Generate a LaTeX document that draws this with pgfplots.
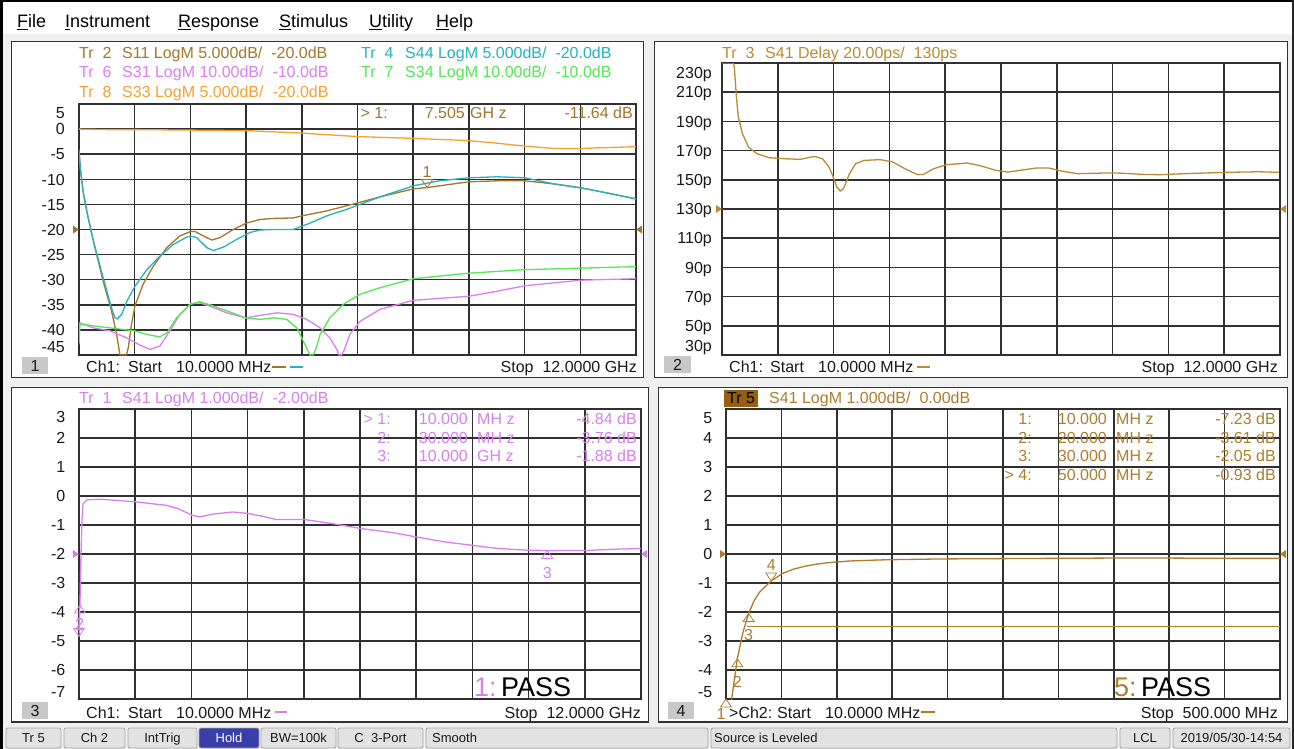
\documentclass[border=0pt]{standalone}
\usepackage{fontspec}
\setmainfont{Liberation Sans}
\usepackage{pgfplots}
\pgfplotsset{compat=1.18}
\definecolor{cS11}{RGB}{163,118,42}
\definecolor{cS44}{RGB}{38,178,190}
\definecolor{cS31}{RGB}{218,128,240}
\definecolor{cS34}{RGB}{86,230,86}
\definecolor{cS33}{RGB}{246,160,50}
\definecolor{cDel}{RGB}{184,140,52}
\definecolor{cTr1}{RGB}{216,128,240}
\definecolor{cTr5}{RGB}{172,126,44}
\definecolor{gridc}{RGB}{48,48,48}
\definecolor{winbg}{RGB}{240,240,240}
\definecolor{btn}{RGB}{226,226,226}
\definecolor{btnb}{RGB}{165,165,165}
\definecolor{holdc}{RGB}{58,62,168}
\definecolor{tr5box}{RGB}{150,96,18}
\definecolor{numbox}{RGB}{200,200,200}
\definecolor{txt}{RGB}{25,25,25}
\newcommand{\fh}{\fontsize{16}{18}\selectfont}
\newcommand{\fm}{\fontsize{18}{20}\selectfont}
\newcommand{\fs}{\fontsize{13}{15}\selectfont}
\newcommand{\fp}{\fontsize{27}{30}\selectfont}
\pgfdeclareplotmark{refR}{\pgfpathmoveto{\pgfpoint{0pt}{0pt}}\pgfpathlineto{\pgfpoint{-6pt}{4pt}}\pgfpathlineto{\pgfpoint{-6pt}{-4pt}}\pgfpathclose\pgfusepathqfill}
\pgfdeclareplotmark{refL}{\pgfpathmoveto{\pgfpoint{0pt}{0pt}}\pgfpathlineto{\pgfpoint{6pt}{4pt}}\pgfpathlineto{\pgfpoint{6pt}{-4pt}}\pgfpathclose\pgfusepathqfill}
\pgfdeclareplotmark{mkdown}{\pgfpathmoveto{\pgfpoint{0pt}{0pt}}\pgfpathlineto{\pgfpoint{-5.5pt}{8pt}}\pgfpathlineto{\pgfpoint{5.5pt}{8pt}}\pgfpathclose\pgfusepathqstroke}
\pgfdeclareplotmark{mkup}{\pgfpathmoveto{\pgfpoint{0pt}{0pt}}\pgfpathlineto{\pgfpoint{-5.5pt}{-8pt}}\pgfpathlineto{\pgfpoint{5.5pt}{-8pt}}\pgfpathclose\pgfusepathqstroke}
\pgfplotsset{vna/.style={
  scale only axis, anchor=south west, clip mode=individual,
  axis line style={draw=gridc, line width=1.5pt},
  grid=major, major grid style={draw=gridc, line width=1.5pt},
  major tick length=0pt,
  xticklabels={}, yticklabels={},
  yticklabel style={font=\fh, text=txt, anchor=base east, inner sep=0pt, yshift=-5.7pt},
  extra y tick style={grid=none, major tick length=0pt},
  every axis plot/.append style={line width=1.3pt},
}}
\pgfplotsset{gxt/.style={xmin=0.01,xmax=12,xtick={0.01,1.209,2.408,3.607,4.806,6.005,7.204,8.403,9.602,10.801,12}}}
\begin{document}
\begin{tikzpicture}
\begin{scope}[x=1pt,y=-1pt]
 \path[use as bounding box] (0,0) rectangle (1294,749);
 \fill[winbg] (0,0) rectangle (1294,749);
 \fill[white] (0,2) rectangle (1294,34);
 \fill[black] (0,0) rectangle (3,749);
 \fill[black] (0,0) rectangle (1294,2);
 \fill[black!85] (1292,0) rectangle (1294,749);
 \filldraw[fill=white,draw=black!80,line width=1.2pt] (11.5,41.5) rectangle (643.5,377.5);
 \filldraw[fill=white,draw=black!80,line width=1.2pt] (654.5,41.5) rectangle (1287.5,377.5);
 \filldraw[fill=white,draw=black!80,line width=1.2pt] (11.5,387.5) rectangle (648.5,722);
 \filldraw[fill=white,draw=black!80,line width=1.2pt] (658.5,387.5) rectangle (1287.5,722);
 % status bar buttons
 \begin{scope}[rounded corners=2pt, line width=0.8pt]
  \filldraw[fill=btn,draw=btnb] (6,728) rectangle (61,748);
  \filldraw[fill=btn,draw=btnb] (64,728) rectangle (125,748);
  \filldraw[fill=btn,draw=btnb] (128,728) rectangle (197,748);
  \filldraw[fill=holdc,draw=btnb] (199,728) rectangle (259,748);
  \filldraw[fill=btn,draw=btnb] (261,728) rectangle (336,748);
  \filldraw[fill=btn,draw=btnb] (338,728) rectangle (423,748);
  \filldraw[fill=btn,draw=btnb] (426,728) rectangle (708,748);
  \filldraw[fill=btn,draw=btnb] (711,728) rectangle (1117,748);
  \filldraw[fill=btn,draw=btnb] (1120,728) rectangle (1170,748);
  \filldraw[fill=btn,draw=btnb] (1173,728) rectangle (1290,748);
 \end{scope}
 % number boxes
 \fill[numbox] (22,357) rectangle (48,374);
 \fill[numbox] (664,356) rectangle (691,373);
 \fill[numbox] (22,702) rectangle (48,719);
 \fill[numbox] (668,702) rectangle (694,719);
 \fill[tr5box] (724,390) rectangle (758,407);
\end{scope}

% ---------------- Panel 1 ----------------
\begin{axis}[vna, gxt, at={(79pt,-355pt)}, width=557pt, height=251pt,
  ymin=-45, ymax=5, ytick={-45,-40,...,5},
  yticklabel style={xshift=-14pt},
  extra y ticks={3.2,0,-5,-10,-15,-20,-25,-30,-35,-40,-43.4},
  extra y tick labels={5,0,-5,-10,-15,-20,-25,-30,-35,-40,-45}]
\addplot[cS11] coordinates {(0.01,-4.0)(0.04,-8.0)(0.10,-12.5)(0.18,-16.5)(0.32,-22.3)(0.53,-30.3)(0.71,-36.2)(0.82,-40.9)(0.89,-44.9)(0.92,-45)(1.03,-45)(1.07,-43.6)(1.14,-38.9)(1.215,-35.2)(1.39,-30.9)(1.61,-27.3)(1.90,-23.6)(2.18,-21.3)(2.41,-20.4)(2.51,-20.4)(2.69,-21.3)(2.87,-22.1)(3.05,-21.6)(3.33,-20.0)(3.62,-18.7)(3.91,-18.0)(4.19,-17.8)(4.62,-17.7)(4.80,-17.3)(5.34,-16.3)(6.01,-14.7)(6.49,-13.5)(7.21,-11.9)(7.505,-11.64)(8.40,-10.5)(9.01,-10.3)(9.61,-10.3)(10.22,-10.9)(10.81,-11.7)(11.42,-12.8)(12.0,-13.9)};
\addplot[cS44] coordinates {(0.01,-4.5)(0.04,-8.0)(0.10,-12.5)(0.18,-16.5)(0.32,-22.3)(0.53,-29.6)(0.71,-35.6)(0.785,-37.6)(0.835,-37.8)(0.93,-36.9)(1.04,-34.3)(1.215,-31.3)(1.47,-28.0)(1.75,-25.3)(2.04,-23.0)(2.33,-21.5)(2.41,-21.3)(2.54,-21.6)(2.76,-23.6)(2.90,-24.2)(3.12,-23.5)(3.40,-22.0)(3.69,-20.6)(3.91,-20.1)(4.19,-20.0)(4.62,-20.0)(4.91,-19.0)(5.34,-17.3)(5.77,-16.0)(6.49,-13.5)(7.21,-11.3)(7.77,-10.3)(8.40,-9.7)(9.01,-9.5)(9.61,-9.7)(10.22,-10.9)(10.81,-11.7)(11.42,-12.8)(12.0,-13.9)};
\addplot[cS31] coordinates {(0.01,-41.0)(0.03,-38.6)(0.32,-39.6)(0.68,-40.2)(1.04,-41.6)(1.32,-43.0)(1.54,-43.9)(1.75,-43.2)(1.97,-40.2)(2.18,-36.9)(2.41,-34.8)(2.61,-34.6)(2.83,-35.3)(3.19,-36.6)(3.60,-37.6)(3.91,-37.1)(4.27,-36.6)(4.62,-36.9)(4.91,-37.9)(5.20,-39.6)(5.41,-41.6)(5.56,-43.9)(5.61,-45)(5.66,-45)(5.72,-44.0)(5.84,-40.9)(6.06,-38.3)(6.49,-35.9)(7.21,-34.1)(8.40,-33.3)(9.01,-32.3)(9.61,-31.2)(10.81,-30.1)(12.0,-29.8)};
\addplot[cS34] coordinates {(0.01,-42.9)(0.03,-38.8)(0.32,-39.2)(0.68,-39.6)(1.215,-40.2)(1.47,-40.9)(1.75,-41.4)(1.90,-40.6)(2.11,-37.6)(2.41,-34.9)(2.61,-34.4)(2.83,-35.0)(3.19,-36.2)(3.60,-37.6)(3.91,-37.9)(4.19,-37.6)(4.48,-37.9)(4.70,-39.6)(4.91,-43.6)(4.98,-45)(5.05,-45)(5.11,-43.8)(5.20,-40.9)(5.41,-37.6)(5.70,-34.9)(6.06,-32.9)(6.49,-31.6)(7.21,-29.8)(8.40,-28.7)(9.61,-28.0)(10.81,-27.7)(12.0,-27.4)};
\addplot[cS33] coordinates {(0.01,0.0)(0.6,-0.1)(1.21,-0.1)(2.41,-0.2)(3.61,-0.3)(4.81,-0.8)(6.02,-1.5)(7.21,-1.85)(8.40,-2.3)(9.0,-2.8)(9.61,-3.4)(10.22,-3.85)(10.81,-3.85)(12.0,-3.5)};
\addplot[cS11, only marks, mark=mkdown, line width=0.8pt] coordinates {(7.505,-11.64)};
\addplot[cS11, only marks, mark=refR] coordinates {(0.01,-20)};
\addplot[cS11, only marks, mark=refL] coordinates {(12,-20)};
\node[font=\fh, text=cS11, inner sep=0pt] at (axis cs:7.505,-11.64) [yshift=16pt] {1};
\end{axis}

% ---------------- Panel 2 ----------------
\begin{axis}[vna, gxt, at={(722pt,-355pt)}, width=558pt, height=292pt,
  ymin=30, ymax=230, ytick={30,50,...,230},
  yticklabel style={xshift=-10pt},
  extra y ticks={223.2,210,190,170,150,130,110,90,70,50,36.2},
  extra y tick labels={230p,210p,190p,170p,150p,130p,110p,90p,70p,50p,30p}]
\addplot[cDel] coordinates {(0.01,230)(0.255,230)(0.275,227)(0.32,206.6)(0.36,193)(0.45,181.5)(0.58,172.4)(0.76,167.9)(1.03,165.1)(1.38,164.4)(1.69,164)(1.82,164.9)(2.0,166)(2.17,164.4)(2.31,158.7)(2.40,151.9)(2.48,145)(2.55,142.3)(2.62,143.9)(2.75,154.2)(2.88,161)(3.06,163.3)(3.41,163.8)(3.68,162.2)(3.94,157.6)(4.21,153.5)(4.34,153.7)(4.56,157.6)(4.83,160.3)(5.27,161.5)(5.53,159.9)(5.89,156.5)(6.15,155.3)(6.42,156.5)(6.77,158.1)(7.03,158.1)(7.30,156)(7.65,154.2)(8.18,154.6)(8.54,154.6)(9.07,153.7)(9.42,153.5)(9.95,154.2)(10.83,155.1)(11.54,155.5)(11.98,155.1)};
\addplot[cDel, only marks, mark=refR] coordinates {(0.01,130)};
\addplot[cDel, only marks, mark=refL] coordinates {(12,130)};
\end{axis}

% ---------------- Panel 3 ----------------
\begin{axis}[vna, gxt, at={(79pt,-699pt)}, width=562pt, height=290pt,
  ymin=-7, ymax=3, ytick={-7,-6,...,3},
  yticklabel style={xshift=-13.5pt},
  extra y ticks={2.72,2,1,0,-1,-2,-3,-4,-5,-6,-6.76},
  extra y tick labels={3,2,1,0,-1,-2,-3,-4,-5,-6,-7}]
\addplot[cTr1] coordinates {(0.01,-4.84)(0.03,-3.76)(0.05,-2.2)(0.075,-0.8)(0.098,-0.26)(0.187,-0.13)(0.45,-0.11)(1.21,-0.2)(1.87,-0.32)(2.13,-0.44)(2.42,-0.66)(2.58,-0.72)(2.84,-0.63)(3.28,-0.55)(3.61,-0.6)(3.99,-0.72)(4.21,-0.81)(4.81,-0.81)(5.41,-0.95)(6.02,-1.12)(6.73,-1.27)(7.20,-1.41)(7.80,-1.58)(8.40,-1.70)(8.95,-1.81)(9.59,-1.87)(10.0,-1.88)(10.19,-1.88)(10.81,-1.88)(11.34,-1.84)(12.0,-1.81)};
\addplot[cTr1, only marks, mark=mkdown, line width=0.8pt] coordinates {(0.01,-4.84)};
\addplot[cTr1, only marks, mark=mkup, line width=0.8pt] coordinates {(0.03,-3.76)(10.0,-1.88)};
\addplot[cTr1, only marks, mark=refR] coordinates {(0.01,-2)};
\addplot[cTr1, only marks, mark=refL] coordinates {(12,-2)};
\node[font=\fh, text=cTr1, inner sep=0pt] at (axis cs:10.0,-1.88) [yshift=-22pt] {3};
\node[font=\fh, text=cTr1, inner sep=0pt] at (axis cs:0.03,-3.76) [yshift=-19pt] {2};
\node[font=\fh, text=cTr1, inner sep=0pt] at (axis cs:0.01,-4.84) [yshift=11pt] {1};
\end{axis}

% ---------------- Panel 4 ----------------
\begin{axis}[vna, at={(726pt,-699pt)}, width=554pt, height=290pt,
  xmin=10, xmax=500, xtick={10,59,108,157,206,255,304,353,402,451,500},
  ymin=-5, ymax=5, ytick={-5,-4,...,5},
  yticklabel style={xshift=-13.5pt},
  extra y ticks={4.71,4,3,2,1,0,-1,-2,-3,-4,-4.76},
  extra y tick labels={5,4,3,2,1,0,-1,-2,-3,-4,-5}]
\addplot[cTr5] coordinates {(28.6,-2.5)(500,-2.5)};
\addplot[cTr5] coordinates {(10,-7.23)(15,-5.0)(20,-3.61)(25,-2.7)(30,-2.05)(35,-1.6)(40,-1.3)(50,-0.93)(60,-0.67)(70,-0.52)(80,-0.42)(90,-0.35)(100,-0.3)(120,-0.24)(150,-0.2)(200,-0.17)(250,-0.16)(300,-0.15)(350,-0.14)(400,-0.14)(450,-0.15)(500,-0.15)};
\addplot[cTr5, only marks, mark=mkup, line width=0.8pt] coordinates {(10,-5)(20,-3.61)(30,-2.05)};
\addplot[cTr5, only marks, mark=mkdown, line width=0.8pt] coordinates {(50,-0.93)};
\addplot[cTr5, only marks, mark=refR] coordinates {(10,0)};
\addplot[cTr5, only marks, mark=refL] coordinates {(500,0)};
\node[font=\fh, text=cTr5, inner sep=0pt] at (axis cs:10,-5) [yshift=-15pt, xshift=-5pt] {1};
\node[font=\fh, text=cTr5, inner sep=0pt] at (axis cs:20,-3.61) [yshift=-23pt] {2};
\node[font=\fh, text=cTr5, inner sep=0pt] at (axis cs:30,-2.05) [yshift=-21.5pt] {3};
\node[font=\fh, text=cTr5, inner sep=0pt] at (axis cs:50,-0.93) [yshift=16pt] {4};
\end{axis}

\begin{scope}[x=1pt,y=-1pt, every node/.style={inner sep=0pt}]
 % menu
 \node[anchor=base west, font=\fm, text=black] at (17,27.4) {\underline{F}ile};
 \node[anchor=base west, font=\fm, text=black] at (65,27.4) {\underline{I}nstrument};
 \node[anchor=base west, font=\fm, text=black] at (178,27.4) {\underline{R}esponse};
 \node[anchor=base west, font=\fm, text=black] at (279,27.4) {\underline{S}timulus};
 \node[anchor=base west, font=\fm, text=black] at (369,27.4) {\underline{U}tility};
 \node[anchor=base west, font=\fm, text=black] at (436,27.4) {\underline{H}elp};
 % panel 1 header
 \node[anchor=base west, font=\fh, text=cS11] at (79,58.5) {Tr\ \ 2};
 \node[anchor=base west, font=\fh, text=cS11] at (122,58.5) {S11 LogM 5.000dB/\ \ -20.0dB};
 \node[anchor=base west, font=\fh, text=cS44] at (361,58.5) {Tr\ \ 4};
 \node[anchor=base west, font=\fh, text=cS44] at (405,58.5) {S44 LogM 5.000dB/\ \ -20.0dB};
 \node[anchor=base west, font=\fh, text=cS31] at (79,77.7) {Tr\ \ 6};
 \node[anchor=base west, font=\fh, text=cS31] at (122,77.7) {S31 LogM 10.00dB/\ \ -10.0dB};
 \node[anchor=base west, font=\fh, text=cS34] at (361,77.7) {Tr\ \ 7};
 \node[anchor=base west, font=\fh, text=cS34] at (405,77.7) {S34 LogM 10.00dB/\ \ -10.0dB};
 \node[anchor=base west, font=\fh, text=cS33] at (79,97.7) {Tr\ \ 8};
 \node[anchor=base west, font=\fh, text=cS33] at (122,97.7) {S33 LogM 5.000dB/\ \ -20.0dB};
 % panel 1 marker table
 \node[anchor=base east, font=\fh, text=cS11] at (388,118.7) {> 1:};
 \node[anchor=base east, font=\fh, text=cS11] at (465,118.7) {7.505};
 \node[anchor=base west, font=\fh, text=cS11] at (470,118.7) {GH z};
 \node[anchor=base east, font=\fh, text=cS11] at (633,118.7) {-11.64 dB};
 % panel 2 header
 \node[anchor=base west, font=\fh, text=cDel] at (722,58.5) {Tr\ \ 3};
 \node[anchor=base west, font=\fh, text=cDel] at (765,58.5) {S41 Delay 20.00ps/\ \ 130ps};
 % panel 3 header
 \node[anchor=base west, font=\fh, text=cTr1] at (79,403.7) {Tr\ \ 1};
 \node[anchor=base west, font=\fh, text=cTr1] at (122,403.7) {S41 LogM 1.000dB/\ \ -2.00dB};
 % panel 3 marker table
 \node[anchor=base east, font=\fh, text=cTr1] at (391,424.7) {> 1:};
 \node[anchor=base east, font=\fh, text=cTr1] at (391,443.7) {2:};
 \node[anchor=base east, font=\fh, text=cTr1] at (391,461.7) {3:};
 \node[anchor=base east, font=\fh, text=cTr1] at (468,424.7) {10.000};
 \node[anchor=base east, font=\fh, text=cTr1] at (468,443.7) {30.000};
 \node[anchor=base east, font=\fh, text=cTr1] at (468,461.7) {10.000};
 \node[anchor=base west, font=\fh, text=cTr1] at (477,424.7) {MH z};
 \node[anchor=base west, font=\fh, text=cTr1] at (477,443.7) {MH z};
 \node[anchor=base west, font=\fh, text=cTr1] at (477,461.7) {GH z};
 \node[anchor=base east, font=\fh, text=cTr1] at (637,424.7) {-4.84 dB};
 \node[anchor=base east, font=\fh, text=cTr1] at (637,443.7) {-3.76 dB};
 \node[anchor=base east, font=\fh, text=cTr1] at (637,461.7) {-1.88 dB};
 % panel 4 header
 \node[anchor=base, font=\fh, text=black] at (741,403.7) {Tr 5};
 \node[anchor=base west, font=\fh, text=cTr5] at (769,403.7) {S41 LogM 1.000dB/\ \ 0.00dB};
 % panel 4 marker table
 \node[anchor=base east, font=\fh, text=cTr5] at (1032,424.7) {1:};
 \node[anchor=base east, font=\fh, text=cTr5] at (1032,443.4) {2:};
 \node[anchor=base east, font=\fh, text=cTr5] at (1032,461.7) {3:};
 \node[anchor=base east, font=\fh, text=cTr5] at (1032,480) {> 4:};
 \node[anchor=base east, font=\fh, text=cTr5] at (1107,424.7) {10.000};
 \node[anchor=base east, font=\fh, text=cTr5] at (1107,443.4) {20.000};
 \node[anchor=base east, font=\fh, text=cTr5] at (1107,461.7) {30.000};
 \node[anchor=base east, font=\fh, text=cTr5] at (1107,480) {50.000};
 \node[anchor=base west, font=\fh, text=cTr5] at (1116,424.7) {MH z};
 \node[anchor=base west, font=\fh, text=cTr5] at (1116,443.4) {MH z};
 \node[anchor=base west, font=\fh, text=cTr5] at (1116,461.7) {MH z};
 \node[anchor=base west, font=\fh, text=cTr5] at (1116,480) {MH z};
 \node[anchor=base east, font=\fh, text=cTr5] at (1276,424.7) {-7.23 dB};
 \node[anchor=base east, font=\fh, text=cTr5] at (1276,443.4) {-3.61 dB};
 \node[anchor=base east, font=\fh, text=cTr5] at (1276,461.7) {-2.05 dB};
 \node[anchor=base east, font=\fh, text=cTr5] at (1276,480) {-0.93 dB};
 % PASS
 \node[anchor=base west, font=\fp, text=cTr1] at (474,696.7) {1:};
 \node[anchor=base west, font=\fp, text=black] at (501,696.7) {PASS};
 \node[anchor=base west, font=\fp, text=cTr5] at (1114,696.7) {5:};
 \node[anchor=base west, font=\fp, text=black] at (1141,696.7) {PASS};
 % number boxes text
 \node[anchor=base, font=\fh, text=txt] at (35,371.2) {1};
 \node[anchor=base, font=\fh, text=txt] at (677.5,370.2) {2};
 \node[anchor=base, font=\fh, text=txt] at (35,716.2) {3};
 \node[anchor=base, font=\fh, text=txt] at (681,716.2) {4};
 % bottom lines
 \node[anchor=base west, font=\fh, text=txt] at (86,372.7) {Ch1:};
 \node[anchor=base west, font=\fh, text=txt] at (128,372.7) {Start};
 \node[anchor=base west, font=\fh, text=txt] at (176,372.7) {10.0000 MHz};
 \draw[cS11, line width=2pt] (272,367) -- (286,367);
 \draw[cS44, line width=2pt] (290,367) -- (303,367);
 \node[anchor=base east, font=\fh, text=txt] at (637,372.7) {Stop\ \ 12.0000 GHz};
 \node[anchor=base west, font=\fh, text=txt] at (729,372.7) {Ch1:};
 \node[anchor=base west, font=\fh, text=txt] at (770,372.7) {Start};
 \node[anchor=base west, font=\fh, text=txt] at (818,372.7) {10.0000 MHz};
 \draw[cDel, line width=2pt] (917,367) -- (930,367);
 \node[anchor=base east, font=\fh, text=txt] at (1278,372.7) {Stop\ \ 12.0000 GHz};
 \node[anchor=base west, font=\fh, text=txt] at (86,718.7) {Ch1:};
 \node[anchor=base west, font=\fh, text=txt] at (128,718.7) {Start};
 \node[anchor=base west, font=\fh, text=txt] at (176,718.7) {10.0000 MHz};
 \draw[cTr1, line width=2pt] (275,712) -- (287,712);
 \node[anchor=base east, font=\fh, text=txt] at (641,718.7) {Stop\ \ 12.0000 GHz};
 \node[anchor=base west, font=\fh, text=txt] at (729,718.7) {>Ch2:};
 \node[anchor=base west, font=\fh, text=txt] at (777,718.7) {Start};
 \node[anchor=base west, font=\fh, text=txt] at (825,718.7) {10.0000 MHz};
 \draw[cTr5, line width=2pt] (921,712) -- (935,712);
 \node[anchor=base east, font=\fh, text=txt] at (1278,718.7) {Stop\ \ 500.000 MHz};
 % status bar text
 \node[anchor=base, font=\fs, text=txt] at (33.5,742.6) {Tr 5};
 \node[anchor=base, font=\fs, text=txt] at (94.5,742.6) {Ch 2};
 \node[anchor=base, font=\fs, text=txt] at (162.5,742.6) {IntTrig};
 \node[anchor=base, font=\fs, text=white] at (229,742.6) {Hold};
 \node[anchor=base, font=\fs, text=txt] at (298.5,742.6) {BW=100k};
 \node[anchor=base, font=\fs, text=txt] at (380.5,742.6) {C\ \ 3-Port};
 \node[anchor=base west, font=\fs, text=txt] at (432,742.6) {Smooth};
 \node[anchor=base west, font=\fs, text=txt] at (714,742.6) {Source is Leveled};
 \node[anchor=base, font=\fs, text=txt] at (1145,742.6) {LCL};
 \node[anchor=base, font=\fs, text=txt] at (1231.5,742.6) {2019/05/30-14:54};
\end{scope}
\end{tikzpicture}
\end{document}
